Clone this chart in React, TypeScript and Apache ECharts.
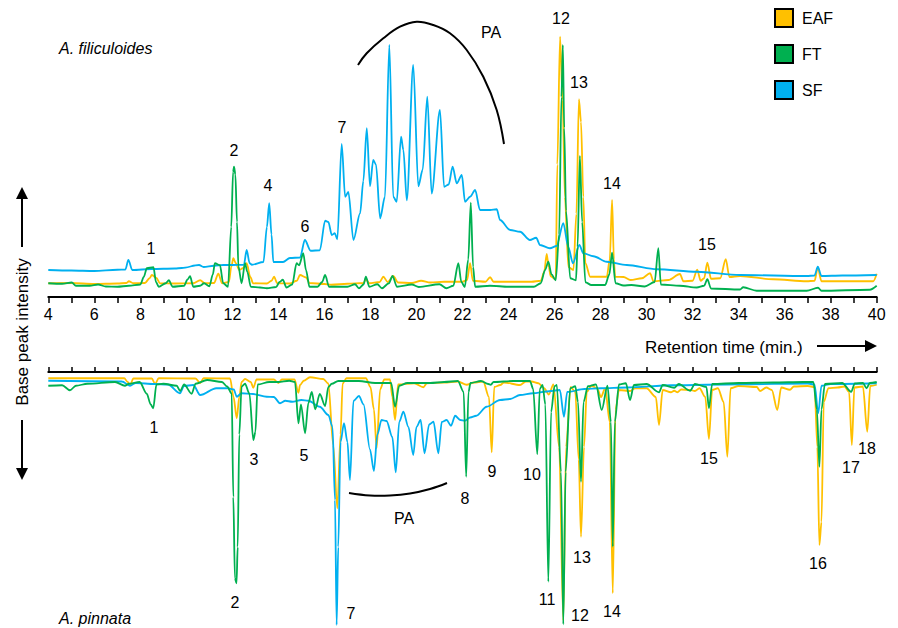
import React, { useEffect, useRef } from 'react';
import * as echarts from 'echarts';

// Retention time (min.) vs base peak intensity (arbitrary units)
const seriesNames = ['EAF', 'FT', 'SF'];

// A. filiculoides (upper trace)
const topEAF: number[][] = [
  [4, 5.5], [5, 5.6], [6, 5.2], [7, 5.4], [7.4, 5.6], [7.5, 6.3], [7.7, 5.5], [8.2, 5.6], [8.4, 7.5], [8.5, 8.8], [8.7, 7.6], [8.85, 5.5],
  [9.5, 5.4], [10.3, 5.5], [10.6, 6.7], [10.8, 5.5], [11.2, 5.6], [11.39, 9.3], [11.55, 5.5], [11.85, 6], [11.95, 12], [12.04, 15.5],
  [12.15, 13.5], [12.3, 10.8], [12.45, 11.5], [12.62, 13.5], [12.78, 8], [12.9, 5.5], [13.5, 5.4], [13.7, 6.5], [13.81, 8.1], [13.95, 5.5],
  [14.5, 5.4], [14.8, 6.5], [14.94, 8.8], [15.2, 7.8], [15.35, 5.6], [16, 5.2], [16.3, 4.9], [17, 5.3], [17.7, 5.6], [17.8, 7.2], [17.95, 5.5],
  [18.4, 6], [18.56, 8.1], [18.75, 6], [18.99, 8.4], [19.2, 5.8], [19.8, 5.6], [20.2, 6.5], [20.6, 5.8], [21.2, 6.1], [22.0, 6.1], [22.2, 6.8],
  [22.33, 13.5], [22.45, 6.5], [23.0, 6.1], [23.2, 7.9], [23.35, 6.1], [24, 6.1], [25, 6.1], [25.4, 6.5], [25.55, 10], [25.66, 17.2], [25.75, 12],
  [25.83, 8.3], [26.05, 7], [26.12, 53], [26.24, 104.1], [26.35, 78.8], [26.45, 40], [26.6, 12], [26.82, 10.8], [26.95, 33.3], [27.06, 79.1],
  [27.15, 70], [27.25, 40], [27.34, 13.5], [27.55, 8.1], [28.0, 8.1], [28.27, 8.1], [28.4, 15], [28.5, 38.8], [28.58, 15], [28.63, 8.1],
  [29.0, 8], [29.3, 6.8], [29.8, 7.5], [30.15, 9.5], [30.3, 6.3], [30.95, 6.8], [31.45, 9.2], [31.6, 6.3], [32.0, 6.5], [32.2, 10.9], [32.35, 6.5],
  [32.5, 7.5], [32.64, 13.7], [32.8, 7.3], [33.2, 7.5], [33.44, 15.1], [33.6, 8], [34.06, 8.4], [35.5, 7.1], [36.96, 6.3], [37.3, 6.5],
  [37.44, 11.7], [37.6, 6.3], [38.5, 6.3], [39.85, 6.3], [40, 9.3],
];
const topFT: number[][] = [
  [4, 5.5], [4.6, 5.3], [5.02, 5.8], [5.2, 4.5], [5.8, 4.5], [6.16, 5], [6.5, 4.2], [7.0, 4.1], [7.5, 4.5], [8.0, 5], [8.15, 8], [8.28, 11.5],
  [8.57, 11.9], [8.68, 6], [8.8, 4.1], [9.1, 5.5], [9.24, 6.7], [9.4, 4.1], [9.9, 4.5], [10.05, 7], [10.16, 8.3], [10.3, 4.1], [10.6, 4.5],
  [10.77, 5.5], [11.0, 4.3], [11.15, 9], [11.24, 13.5], [11.46, 12.7], [11.6, 5.5], [11.81, 4.1], [11.95, 28], [12.03, 50], [12.07, 52.1],
  [12.13, 49], [12.2, 30], [12.26, 12.3], [12.4, 5.5], [12.55, 13.5], [12.65, 10], [12.8, 4.1], [13.2, 3.8], [13.5, 3.5], [13.9, 4], [14.05, 6],
  [14.19, 6.9], [14.35, 3.8], [14.6, 5], [14.79, 13.5], [14.9, 12.7], [15.08, 17.5], [15.2, 10.7], [15.35, 4.1], [15.7, 4.1], [15.9, 6],
  [16.03, 8.8], [16.2, 4.1], [17.0, 4.1], [17.33, 5.1], [17.5, 3.5], [17.7, 5], [17.8, 8.1], [17.95, 4.1], [18.3, 5.1], [18.5, 3.5], [18.8, 5.5],
  [18.96, 8.4], [19.15, 4.1], [19.8, 5], [20.1, 4], [21.0, 5.1], [21.3, 3.5], [21.6, 4.5], [21.82, 13.5], [21.95, 6], [22.1, 4], [22.25, 15],
  [22.36, 37.7], [22.46, 12], [22.55, 4.1], [23.2, 4.5], [24, 4.1], [25.1, 4.1], [25.4, 5.5], [25.59, 10.8], [25.73, 14.1], [25.87, 9],
  [26.05, 6.7], [26.2, 25], [26.3, 80], [26.36, 100.8], [26.42, 67.6], [26.5, 34.4], [26.68, 7.5], [26.93, 6.7], [27.0, 20], [27.1, 56.4],
  [27.2, 30], [27.34, 5.9], [27.6, 4.8], [28.2, 4.8], [28.38, 9], [28.5, 17.7], [28.65, 5.5], [29.0, 4.6], [29.34, 4.8], [29.92, 4.2],
  [30.35, 6], [30.51, 19.5], [30.62, 5], [31.45, 4.5], [32.18, 3.8], [32.5, 4.5], [32.64, 7.1], [32.8, 3.4], [34.06, 3.0], [34.2, 3.9],
  [34.78, 2.5], [36.96, 2.5], [37.45, 3.7], [37.6, 2.5], [39.7, 2.9], [40, 4.5],
];
const topSF: number[][] = [
  [4, 10.8], [5, 10.6], [6, 10.4], [7, 10.9], [7.35, 11], [7.48, 14.8], [7.65, 10.8], [8.5, 11.2], [9.5, 11.4], [9.8, 11.6], [10.55, 12.8],
  [10.75, 12], [11.2, 12.5], [11.6, 12.8], [12.0, 12.8], [12.5, 12.9], [12.62, 18.8], [12.75, 13.5], [12.85, 12.9], [13.35, 14], [13.5, 28],
  [13.6, 37.5], [13.7, 25], [13.78, 14], [14.2, 14], [14.5, 15.6], [14.94, 15.8], [15.15, 22.8], [15.4, 18.5], [15.8, 18.7], [16.03, 30.5],
  [16.17, 30], [16.32, 24.8], [16.45, 25.5], [16.56, 23.1], [16.75, 61.2], [16.9, 40.1], [17.04, 42], [17.26, 22.8], [17.55, 33.5],
  [17.69, 46.4], [17.84, 67.5], [17.98, 44.3], [18.12, 54.8], [18.24, 53], [18.42, 31.5], [18.63, 40.1], [18.82, 100.8], [18.99, 40.1],
  [19.14, 38.1], [19.33, 64.1], [19.43, 58.8], [19.58, 38.7], [19.86, 92.8], [20.08, 44.3], [20.27, 50.9], [20.47, 80.1], [20.66, 41.4],
  [21.02, 74.8], [21.2, 44.1], [21.4, 45], [21.57, 52.1], [21.75, 45.5], [21.97, 48.8], [22.11, 38.1], [22.33, 40.1], [22.55, 42.8],
  [22.76, 34.8], [23.2, 34.8], [23.49, 35.1], [23.63, 30.8], [24.07, 26.8], [24.5, 26.1], [24.93, 22.8], [25.2, 23.7], [25.37, 20.8],
  [25.8, 19.5], [26.09, 20.4], [26.38, 29.5], [26.6, 19.9], [26.8, 13.5], [27.08, 20.8], [27.25, 17.5], [27.69, 16.3], [28.27, 14.1],
  [29.14, 12.8], [30.44, 11.1], [32.18, 10.1], [34.06, 8.8], [36.96, 8.4], [37.3, 8.6], [37.44, 12.1], [37.6, 8.4], [38.5, 8.6], [40, 8.8],
];

// A. pinnata (lower, mirrored trace)
const bottomEAF: number[][] = [
  [4, 2.5], [7.3, 2.5], [7.45, 4], [7.55, 5.2], [7.7, 2.6], [8.5, 2.6], [8.64, 4.8], [8.8, 2.5], [10.4, 2.6], [10.6, 4.4], [10.75, 2.5],
  [11.9, 2.6], [12.05, 10], [12.19, 18.5], [12.3, 10], [12.4, 4], [12.55, 2.8], [12.8, 4], [12.91, 6.3], [13.05, 3], [13.8, 3], [14.0, 4.4],
  [14.15, 3], [14.7, 3], [14.87, 8.3], [14.94, 5.2], [15.1, 3.5], [15.37, 2.1], [15.95, 2.8], [16.17, 4.6], [16.38, 29.2], [16.56, 54.5],
  [16.7, 25], [16.79, 4.6], [16.96, 2.5], [17.8, 2.5], [18.0, 6], [18.15, 15], [18.27, 30.5], [18.42, 7], [18.6, 3], [18.85, 3], [18.95, 10],
  [19.07, 19.2], [19.2, 5], [19.9, 4.5], [20.3, 6.1], [20.45, 4.5], [21.2, 4.2], [21.8, 3.8], [22.18, 5.1], [22.5, 4.2], [22.9, 3.8],
  [23.15, 10], [23.27, 32.1], [23.38, 6], [23.64, 5.2], [23.8, 4.2], [24.5, 5.2], [24.75, 3.8], [25.0, 3.8], [25.3, 4.5], [25.55, 6.5],
  [25.75, 9], [25.95, 5], [26.2, 30], [26.38, 99.5], [26.5, 30], [26.7, 6], [26.9, 8], [27.05, 35], [27.15, 65.9], [27.28, 30], [27.4, 8],
  [27.6, 5.5], [27.85, 6.5], [28.02, 10], [28.2, 6.5], [28.4, 20], [28.53, 88.5], [28.65, 15], [28.8, 7.2], [29.28, 7.6], [29.5, 6.5],
  [30.0, 6.5], [30.4, 10], [30.54, 21.2], [30.7, 7.2], [31.06, 8.1], [31.2, 7.5], [31.34, 8.1], [31.5, 7], [31.89, 7.2], [32.1, 7.6],
  [32.3, 6.5], [32.55, 10], [32.71, 26.8], [32.85, 7.2], [33.1, 6.5], [33.35, 12], [33.51, 33.9], [33.65, 6.5], [34, 5.6], [34.79, 6],
  [34.93, 7.6], [35.2, 6.2], [35.44, 7.2], [35.68, 15.2], [35.85, 6.2], [36.23, 7.1], [36.4, 5.8], [37.0, 5.6], [37.3, 6], [37.42, 30],
  [37.51, 69.2], [37.6, 60], [37.7, 12], [37.9, 6.5], [38.3, 6.2], [38.6, 5.8], [38.8, 8], [38.92, 29.2], [39.03, 6.2], [39.4, 5.8],
  [39.59, 23.9], [39.72, 5.6], [40, 5.1],
];
const bottomFT: number[][] = [
  [4, 5.5], [4.6, 5.3], [4.94, 7.3], [5.2, 5.5], [5.7, 4.7], [6.9, 4], [7.33, 5.5], [7.5, 4.7], [7.97, 4], [8.28, 8.7], [8.45, 13], [8.56, 14.5],
  [8.7, 5], [9.0, 4.7], [9.58, 5.5], [9.73, 7.6], [9.9, 5], [10.23, 8.7], [10.4, 4.7], [10.9, 3.2], [11.55, 4], [11.77, 5.8], [11.97, 8.6],
  [12.04, 50], [12.11, 82.5], [12.18, 84.5], [12.23, 70], [12.3, 25], [12.4, 5.8], [12.55, 4.7], [12.74, 8.7], [12.91, 27.2], [13.0, 24],
  [13.1, 5], [13.6, 4], [14.0, 4], [14.47, 3.5], [14.72, 4], [14.87, 20.5], [14.98, 13], [15.16, 24.5], [15.3, 12.5], [15.45, 8], [15.6, 14.9],
  [15.8, 8.8], [16.03, 13.6], [16.17, 6], [16.32, 4.7], [16.6, 3.6], [17.5, 3.6], [18.2, 4.4], [18.9, 4.4], [19.07, 13.9], [19.25, 5.5],
  [19.6, 4.4], [20.0, 4.4], [20.6, 4.4], [21.2, 4], [21.8, 3.6], [22.05, 8], [22.16, 41.9], [22.26, 8], [22.35, 4.4], [22.8, 3.6], [23.12, 4.8],
  [23.23, 5.1], [23.35, 4], [24.2, 3.6], [24.93, 3.6], [25.07, 6.7], [25.25, 32.9], [25.36, 6.7], [25.48, 5.2], [25.6, 13], [25.73, 83.9],
  [25.85, 16], [26.0, 5.7], [26.1, 5.2], [26.28, 40], [26.38, 100.9], [26.48, 40], [26.68, 6.5], [26.9, 5.7], [27.02, 12], [27.15, 43.9],
  [27.26, 12], [27.45, 5.7], [27.8, 5], [28.05, 15.2], [28.3, 5.5], [28.45, 20], [28.53, 69.9], [28.62, 20], [28.8, 5], [29.1, 4.5],
  [29.28, 11.2], [29.45, 5.2], [30.0, 4.8], [30.54, 8.1], [30.7, 5.2], [31.2, 6.3], [31.4, 4.8], [31.89, 7.5], [32.1, 4.8], [32.6, 6],
  [32.71, 14.5], [32.85, 4.8], [34, 4.4], [35.5, 4.2], [36.8, 4], [37.25, 4], [37.4, 15], [37.51, 37.9], [37.6, 15], [37.75, 4.8], [38.5, 4.4],
  [38.89, 7.9], [39.05, 4.6], [39.4, 4.4], [39.56, 6.5], [39.7, 4.4], [40, 4],
];
const bottomSF: number[][] = [
  [4, 3.5], [7.2, 3.8], [7.55, 5.5], [7.8, 4.4], [8.6, 4.8], [9.2, 5], [9.72, 8.5], [9.9, 5.6], [10.3, 5.2], [10.6, 9.2], [11.3, 6.5],
  [11.8, 6.5], [12.06, 7], [12.19, 9.9], [12.4, 8.5], [12.9, 8.8], [13.49, 9.9], [13.8, 10], [14.07, 12.5], [14.3, 11.5], [14.6, 11.9],
  [15.0, 11.2], [15.3, 11.5], [15.8, 13.9], [16.17, 17.2], [16.35, 21.9], [16.46, 51.2], [16.53, 101.2], [16.6, 70], [16.7, 28], [16.85, 20.5],
  [17.0, 28], [17.11, 43.2], [17.26, 11.6], [17.5, 9.6], [17.7, 13], [17.98, 31], [18.15, 39.6], [18.3, 25], [18.48, 19.2], [18.7, 19.6],
  [18.95, 26], [19.1, 40.1], [19.25, 20], [19.43, 15.9], [19.65, 22], [19.86, 33.2], [20.0, 22], [20.18, 19.2], [20.35, 32.5], [20.55, 21],
  [20.74, 19.9], [20.95, 32.5], [21.1, 20], [21.31, 19.2], [21.5, 21.5], [21.68, 17.5], [21.9, 19.2], [22.1, 19.5], [22.33, 18.2],
  [22.6, 17.5], [23.05, 13.9], [23.63, 11.2], [24.07, 10.8], [24.5, 9.2], [25.07, 8.5], [25.66, 7.8], [26.23, 7.2], [26.41, 17.9],
  [26.55, 8], [27.3, 6.8], [28.0, 6.5], [29.14, 6.2], [31.1, 5.3], [34.1, 4.9], [37.0, 4.6], [37.3, 5], [37.46, 16.5], [37.6, 5.5],
  [38, 4.8], [40, 4.5],
];

const xTickMin = 4;
const xTickMax = 40;
const xTickStep = 2;

const colors: Record<string, string> = { EAF: '#FFC000', FT: '#00B050', SF: '#00B0F0' };
const FONT = '"Liberation Sans", Arial, Helvetica, sans-serif';

// annotation texts (pixel positions)
const topPeakLabels: [string, number, number][] = [
  ['1', 151, 248], ['2', 234, 150], ['4', 268, 185], ['6', 305, 226], ['7', 342, 127], ['12', 561, 18], ['13', 579, 82],
  ['14', 612, 183], ['15', 707, 244], ['16', 818, 248],
];
const bottomPeakLabels: [string, number, number][] = [
  ['1', 154, 427], ['2', 235, 602], ['3', 254, 459], ['5', 304, 455], ['7', 351, 613], ['8', 465, 498], ['9', 492, 471],
  ['10', 532, 474], ['11', 547, 599], ['12', 580, 615], ['13', 582, 557], ['14', 612, 611], ['15', 709, 458], ['16', 818, 563],
  ['17', 851, 467], ['18', 867, 448],
];

export default function App() {
  const ref = useRef<HTMLDivElement>(null);
  useEffect(() => {
    if (!ref.current) return;
    const chart = echarts.init(ref.current, undefined, { renderer: 'svg' });
    const mkSeries = (name: string, data: number[][], idx: number) => ({
      name,
      type: 'line',
      xAxisIndex: idx,
      yAxisIndex: idx,
      data,
      showSymbol: false,
      symbol: 'none',
      smooth: 0.3,
      smoothMonotone: 'x',
      lineStyle: { color: colors[name], width: 1.8 },
      itemStyle: { color: colors[name] },
      z: name === 'FT' ? 4 : name === 'SF' ? 3 : 2,
    });
    const text = (t: string, x: number, y: number, size = 16, extra: any = {}) => ({
      type: 'text',
      x,
      y,
      style: { text: t, fill: '#000', font: `${extra.italic ? 'italic ' : ''}${size}px ${FONT}`, textAlign: extra.align || 'center', textVerticalAlign: 'middle' },
    });
    const graphics: any[] = [];
    topPeakLabels.forEach(([t, x, y]) => graphics.push(text(t, x, y)));
    bottomPeakLabels.forEach(([t, x, y]) => graphics.push(text(t, x, y)));
    graphics.push(text('A. filiculoides', 59, 48, 16, { italic: true, align: 'left' }));
    graphics.push(text('A. pinnata', 59, 618, 16, { italic: true, align: 'left' }));
    graphics.push(text('PA', 491, 32));
    graphics.push(text('PA', 404, 518));
    graphics.push(text('Retention time (min.)', 645, 347, 17, { align: 'left' }));
    graphics.push({
      type: 'text', x: 22, y: 332, rotation: Math.PI / 2,
      style: { text: 'Base peak intensity', fill: '#000', font: `17px ${FONT}`, textAlign: 'center', textVerticalAlign: 'middle' },
    });
    const ls = { stroke: '#000', lineWidth: 2 };
    graphics.push({ type: 'line', shape: { x1: 22, y1: 247, x2: 22, y2: 197 }, style: ls });
    graphics.push({ type: 'polygon', shape: { points: [[16, 199], [28, 199], [22, 187]] }, style: { fill: '#000' } });
    graphics.push({ type: 'line', shape: { x1: 22, y1: 420, x2: 22, y2: 470 }, style: ls });
    graphics.push({ type: 'polygon', shape: { points: [[16, 468], [28, 468], [22, 480]] }, style: { fill: '#000' } });
    graphics.push({ type: 'line', shape: { x1: 817, y1: 346, x2: 867, y2: 346 }, style: ls });
    graphics.push({ type: 'polygon', shape: { points: [[865, 340], [865, 352], [877, 346]] }, style: { fill: '#000' } });
    graphics.push({
      type: 'polyline',
      shape: { points: [[358, 65], [366.7, 53.3], [383.3, 38.3], [400, 26.7], [416.7, 21.7], [433.3, 25], [450, 33.3], [466.7, 50], [483.3, 76.7], [496.7, 110], [504, 144]], smooth: 0.4 },
      style: { stroke: '#000', lineWidth: 2, fill: 'none' },
    });
    graphics.push({
      type: 'polyline',
      shape: { points: [[349, 493], [370, 495.5], [390, 495.5], [410, 493.5], [430, 489], [447, 483]], smooth: 0.4 },
      style: { stroke: '#000', lineWidth: 2, fill: 'none' },
    });

    const axisCommon = {
      type: 'value',
      min: xTickMin,
      max: xTickMax,
      interval: xTickStep,
      splitLine: { show: false },
      axisLine: { show: true, onZero: false, lineStyle: { color: '#000', width: 2 } },
      axisTick: { show: true, inside: false, lineStyle: { color: '#000', width: 1.5 } },
      minorTick: { show: true, splitNumber: 2, lineStyle: { color: '#000', width: 1.5 } },
      minorSplitLine: { show: false },
    };

    chart.setOption({
      animation: false,
      backgroundColor: '#fff',
      textStyle: { fontFamily: FONT },
      legend: {
        data: seriesNames,
        orient: 'vertical',
        left: 774,
        top: 8,
        padding: 0,
        itemWidth: 18,
        itemHeight: 18,
        itemGap: 16,
        icon: 'rect',
        itemStyle: { borderColor: '#000', borderWidth: 2 },
        textStyle: { fontSize: 16, color: '#000', fontFamily: FONT, padding: [0, 0, 0, 4] },
        selectedMode: false,
      },
      grid: [
        { left: 48.3, right: 21.3, top: 22, height: 275 },
        { left: 48.3, right: 21.3, top: 372, height: 255 },
      ],
      xAxis: [
        {
          ...axisCommon,
          gridIndex: 0,
          position: 'bottom',
          axisTick: { ...axisCommon.axisTick, length: 6 },
          minorTick: { ...axisCommon.minorTick, length: 6 },
          axisLabel: { show: true, color: '#000', fontSize: 16, fontFamily: FONT, margin: 9 },
        },
        {
          ...axisCommon,
          gridIndex: 1,
          position: 'top',
          axisTick: { ...axisCommon.axisTick, length: 5 },
          minorTick: { ...axisCommon.minorTick, length: 5 },
          axisLabel: { show: false },
        },
      ],
      yAxis: [
        { type: 'value', gridIndex: 0, min: 0, max: 110, show: false },
        { type: 'value', gridIndex: 1, min: 0, max: 102, inverse: true, show: false },
      ],
      series: [
        mkSeries('EAF', topEAF, 0),
        mkSeries('SF', topSF, 0),
        mkSeries('FT', topFT, 0),
        mkSeries('EAF', bottomEAF, 1),
        mkSeries('SF', bottomSF, 1),
        mkSeries('FT', bottomFT, 1),
      ],
      graphic: graphics,
    });
    return () => chart.dispose();
  }, []);
  return <div ref={ref} style={{ position: 'fixed', left: 0, top: 0, width: 898, height: 628, background: '#fff' }} />;
}
